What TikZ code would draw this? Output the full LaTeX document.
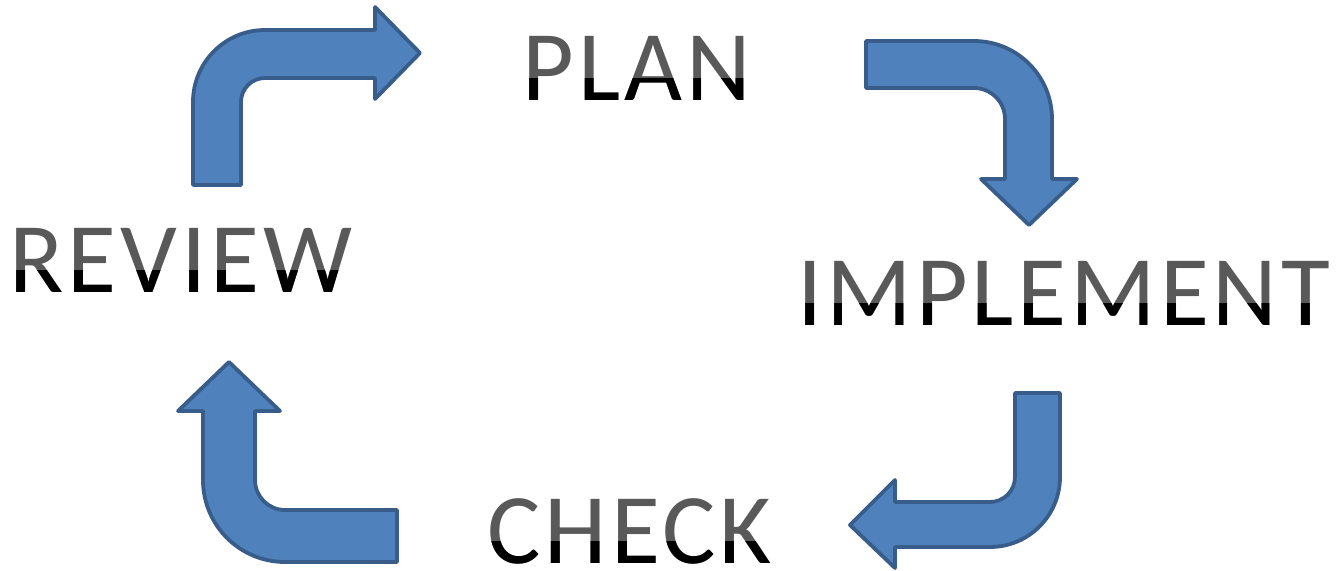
\documentclass[tikz,border=0pt]{standalone}
\usepackage{fontspec}
\newfontfamily\cyclefont[LetterSpace=4]{Carlito}
\usepackage{xcolor}
\definecolor{cFill}{HTML}{4F81BD}
\definecolor{cEdge}{HTML}{385D8A}
\definecolor{cText}{HTML}{595959}
\usepackage{tikz}
\usetikzlibrary{calc}
\tikzset{
  arrow-block/.style={fill=cFill,draw=cEdge,line width=1.9pt,line join=round},
  node-label/.style={anchor=base west,inner sep=0pt,text=cText,
    font=\cyclefont\fontsize{50}{50}\selectfont},
  node-label-lo/.style={node-label,text=black},
}
% lower band of a label in black
\newcommand\shadelabel[2]{%
  \begin{scope}
    \clip ($(#1.base west)+(-5,22)$) rectangle ($(#1.south east)+(5,-10)$);
    \node[node-label-lo] (#1-lo) at (#1.base west) {#2};
  \end{scope}}

\begin{document}
\begin{tikzpicture}[x=0.5pt,y=0.5pt]
  \useasboundingbox (0,0) rectangle (1341,570);

  % review -> plan
  \draw[arrow-block] (193,385) -- (193,468) arc[start angle=180,end angle=90,radius=72]
    -- (375,540) -- (375,563) -- (420,517) -- (375,471) -- (375,492) -- (265,492)
    arc[start angle=90,end angle=180,radius=24] -- (241,385) -- cycle;
  % plan -> implement
  \draw[arrow-block] (866,529) -- (974,529) arc[start angle=90,end angle=0,radius=78]
    -- (1052,391) -- (1077,391) -- (1029,345) -- (981,391) -- (1005,391) -- (1005,451)
    arc[start angle=0,end angle=90,radius=31] -- (866,482) -- cycle;
  % implement -> check
  \draw[arrow-block] (1015,177) -- (1060,177) -- (1060,93) arc[start angle=0,end angle=-90,radius=70]
    -- (895,23) -- (895,2) -- (850,45) -- (895,90) -- (895,68) -- (990,68)
    arc[start angle=-90,end angle=0,radius=25] -- cycle;
  % check -> review
  \draw[arrow-block] (397,60) -- (285,60) arc[start angle=-90,end angle=-180,radius=30]
    -- (255,159) -- (280,159) -- (229,208) -- (178,159) -- (203,159) -- (203,90)
    arc[start angle=180,end angle=270,radius=82] -- (397,8) -- cycle;

  \node[node-label] (plan) at (522,470) {PLAN};
  \node[node-label] (review) at (9,278) {REVIEW};
  \node[node-label] (implement) at (797,245) {IMPLEMENT};
  \node[node-label] (check) at (487,7) {CHECK};
  \shadelabel{plan}{PLAN}
  \shadelabel{review}{REVIEW}
  \shadelabel{implement}{IMPLEMENT}
  \shadelabel{check}{CHECK}
\end{tikzpicture}
\end{document}
